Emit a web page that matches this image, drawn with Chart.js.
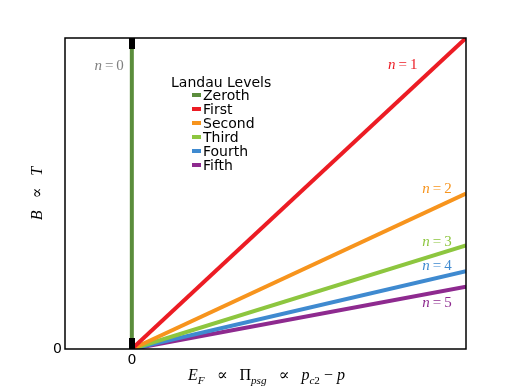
<!DOCTYPE html>
<html>
<head>
<meta charset="utf-8">
<script src="https://cdn.jsdelivr.net/npm/chart.js@4.4.1/dist/chart.umd.min.js"></script>
<style>
html,body{margin:0;padding:0;background:#fff;}
#wrap{width:518px;height:388px;}
</style>
</head>
<body>
<div id="wrap"><canvas id="c" width="518" height="388"></canvas></div>
<script>
// ---- data ----
const levelNames = ["Zeroth", "First", "Second", "Third", "Fourth", "Fifth"];
const levelColors = ["#5b8d3c", "#ec1c24", "#f7941d", "#8dc63f", "#3f8ad0", "#8e2a8f"];
const levelIndex = [0, 1, 2, 3, 4, 5];
const endX = [0, 1, 1, 1, 1, 1];       // x of the far end of each line
const endY = [1, 1, 0.5, 0.333, 0.25, 0.2]; // y of the far end of each line
const xTicks = [0];
const yTicks = [0];
// annotation positions (data coordinates)
const annX = [-0.068, 0.811, 0.913, 0.913, 0.913, 0.913];
const annY = [0.91, 0.913, 0.514, 0.344, 0.267, 0.148];
const annColors = ["#808080", "#ec1c24", "#f7941d", "#8dc63f", "#3f8ad0", "#8e2a8f"];

// end-marker for zeroth line
const marker = document.createElement('canvas');
marker.width = 6; marker.height = 22;
(function(){const g = marker.getContext('2d'); g.fillStyle = '#000'; g.fillRect(0,0,6,22);})();

const datasets = levelNames.map((name, i) => ({
  label: name,
  data: [{x: 0, y: 0}, {x: endX[i], y: endY[i]}],
  borderColor: levelColors[i],
  backgroundColor: levelColors[i],
  borderWidth: 4,
  pointRadius: i === 0 ? 5 : 0,
  pointStyle: i === 0 ? marker : 'circle',
  pointHoverRadius: 0,
  fill: false,
  tension: 0,
  clip: 0,
  order: i === 0 ? 0 : i
}));

function drawRich(ctx, segs, x, y, align, size) {
  // segs: [text, italic, sub]
  const fam = '"Liberation Serif", "DejaVu Serif", serif';
  const font = (s) => (s[1] ? 'italic ' : '') + (s[2] ? size * 0.7 : size) + 'px ' + fam;
  let w = 0;
  for (const s of segs) { ctx.font = font(s); w += ctx.measureText(s[0]).width; }
  let cx = align === 'center' ? x - w / 2 : x;
  for (const s of segs) {
    ctx.font = font(s);
    ctx.fillText(s[0], cx, y + (s[2] ? size * 0.25 : 0));
    cx += ctx.measureText(s[0]).width;
  }
}

const decor = {
  id: 'decor',
  afterDraw(chart) {
    const ctx = chart.ctx, a = chart.chartArea;
    const xs = chart.scales.x, ys = chart.scales.y;
    ctx.save();
    // frame
    ctx.strokeStyle = '#000'; ctx.lineWidth = 1.5;
    ctx.strokeRect(a.left, a.top, a.right - a.left, a.bottom - a.top);
    // legend
    ctx.fillStyle = '#000';
    ctx.textBaseline = 'alphabetic';
    ctx.textAlign = 'left';
    ctx.font = '14px "DejaVu Sans"';
    ctx.fillText('Landau Levels', 171, 87);
    chart.data.datasets.forEach((d, i) => {
      const by = 100 + 14 * i;
      ctx.strokeStyle = d.borderColor; ctx.lineWidth = 4;
      ctx.beginPath(); ctx.moveTo(192, by - 5); ctx.lineTo(201, by - 5); ctx.stroke();
      ctx.fillStyle = '#000';
      ctx.fillText(d.label, 203, by);
    });
    // annotations n=...
    ctx.textBaseline = 'middle';
    levelIndex.forEach((n, i) => {
      ctx.fillStyle = annColors[i];
      drawRich(ctx, [['n', true, false], ['\u2009=\u2009', false, false], [String(n), false, false]],
        xs.getPixelForValue(annX[i]), ys.getPixelForValue(annY[i]), 'center', 15);
    });
    // axis titles
    ctx.fillStyle = '#000';
    ctx.textBaseline = 'alphabetic';
    drawRich(ctx, [['E', true, false], ['F', true, true], ['   \u221D   ', false, false],
      ['\u03A0', false, false], ['psg', true, true], ['   \u221D   ', false, false],
      ['p', true, false], ['c', true, true], ['2', false, true], [' \u2212 ', false, false], ['p', true, false]],
      (a.left + a.right) / 2 + 1, 380, 'center', 16);
    ctx.translate(42, (a.top + a.bottom) / 2);
    ctx.rotate(-Math.PI / 2);
    drawRich(ctx, [['B', true, false], ['   \u221D   ', false, false], ['T', true, false]], 0, 0, 'center', 16);
    ctx.restore();
  }
};

new Chart(document.getElementById('c'), {
  type: 'line',
  data: { datasets },
  options: {
    responsive: false,
    animation: false,
    events: [],
    layout: { padding: { top: 38, right: 52, left: 0, bottom: 0 } },
    plugins: { legend: { display: false }, tooltip: { enabled: false } },
    scales: {
      x: {
        type: 'linear', min: -0.2, max: 1.0,
        grid: { display: false, drawTicks: false },
        border: { display: false },
        afterBuildTicks: s => { s.ticks = xTicks.map(v => ({ value: v })); },
        afterFit: s => { s.height = 39; },
        ticks: { color: '#000', font: { family: 'DejaVu Sans', size: 14 }, padding: 3, maxRotation: 0 }
      },
      y: {
        type: 'linear', min: 0, max: 1,
        grid: { display: false, drawTicks: false },
        border: { display: false },
        afterBuildTicks: s => { s.ticks = yTicks.map(v => ({ value: v })); },
        afterFit: s => { s.width = 65; },
        ticks: { color: '#000', font: { family: 'DejaVu Sans', size: 14 }, padding: 3 }
      }
    }
  },
  plugins: [decor]
});
</script>
</body>
</html>
